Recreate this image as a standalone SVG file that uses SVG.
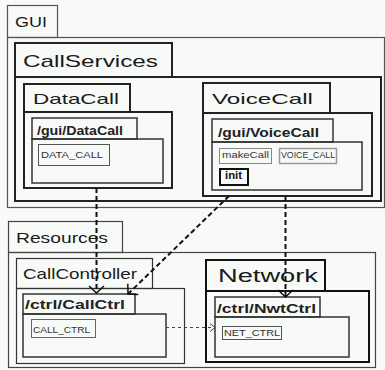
<svg xmlns="http://www.w3.org/2000/svg" width="385" height="370" viewBox="0 0 385 370">
<defs>
<style>
.bg{fill:#f7faf7}
.p1{fill:none;stroke:#555;stroke-width:1.2}
.p2{fill:none;stroke:#222;stroke-width:2}
.p3{fill:none;stroke:#333;stroke-width:1.5}
.p4{fill:none;stroke:#333;stroke-width:1.2}
.box{fill:none;stroke:#666;stroke-width:1}
text{font-family:"Liberation Sans",Arial,sans-serif;fill:#1a1a1a}
.h1{font-size:17px}
.h2{font-size:15px}
.h3{font-size:12px;font-weight:bold;fill:#222}
.sm{font-size:9px;fill:#333}
.dash{fill:none;stroke:#111;stroke-width:2;stroke-dasharray:5 3}
.thin{fill:none;stroke:#444;stroke-width:1;stroke-dasharray:3 3}
</style>
<marker id="open" markerUnits="userSpaceOnUse" viewBox="-10 -10 12 20" refX="0" refY="0" markerWidth="12" markerHeight="20" orient="auto">
<path d="M-7,-7.5 L0,0 L-7,7.5" fill="none" stroke="#111" stroke-width="1.5"/>
</marker>
<marker id="openS" markerUnits="userSpaceOnUse" viewBox="-7 -6 8 12" refX="0" refY="0" markerWidth="8" markerHeight="12" orient="auto">
<path d="M-5,-4 L0,0 L-5,4" fill="none" stroke="#444" stroke-width="1"/>
</marker>
</defs>
<rect class="bg" x="0" y="0" width="385" height="370"/>

<g id="GUI">
<rect class="p1" x="7.5" y="37.5" width="377" height="170"/>
<rect class="p1" x="7.5" y="5.5" width="50" height="32"/>
<text class="h2" x="15" y="27" textLength="32" lengthAdjust="spacingAndGlyphs">GUI</text>
</g>

<g id="CallServices">
<rect class="p2" x="15" y="77" width="366" height="124"/>
<rect class="p2" x="15" y="43" width="157" height="34"/>
<text class="h1" x="23" y="67" textLength="135" lengthAdjust="spacingAndGlyphs">CallServices</text>
</g>

<g id="DataCall">
<rect class="p2" x="24" y="112" width="148" height="76"/>
<rect class="p2" x="24" y="84" width="106" height="28"/>
<text class="h2" x="33" y="104" textLength="86" lengthAdjust="spacingAndGlyphs">DataCall</text>
</g>

<g id="gui-DataCall">
<rect class="p3" x="32" y="139" width="131" height="44"/>
<rect class="p3" x="32" y="118" width="105" height="21"/>
<text class="h3" x="37" y="135" textLength="86" lengthAdjust="spacingAndGlyphs">/gui/DataCall</text>
<rect class="box" x="38.5" y="144.5" width="71" height="21" style="stroke:#555"/>
<text class="sm" x="41" y="158" textLength="62" lengthAdjust="spacingAndGlyphs">DATA_CALL</text>
</g>

<g id="VoiceCall">
<rect class="p2" x="203" y="113" width="169" height="83"/>
<rect class="p2" x="203" y="83" width="127" height="30"/>
<text class="h2" x="212" y="104" textLength="101" lengthAdjust="spacingAndGlyphs">VoiceCall</text>
</g>

<g id="gui-VoiceCall">
<rect class="p3" x="212" y="142" width="150" height="48"/>
<rect class="p3" x="212" y="119" width="121" height="23"/>
<text class="h3" x="218" y="137" textLength="101" lengthAdjust="spacingAndGlyphs">/gui/VoiceCall</text>
<rect class="box" x="219.5" y="148.5" width="52" height="15" style="stroke:#888"/>
<text class="sm" x="222" y="158" textLength="47" lengthAdjust="spacingAndGlyphs">makeCall</text>
<rect class="box" x="279.5" y="148.5" width="57" height="15" style="stroke:#999;stroke-width:1.5"/>
<text class="sm" x="281" y="158" textLength="54" lengthAdjust="spacingAndGlyphs">VOICE_CALL</text>
<rect class="box" x="220" y="169" width="28" height="16" style="stroke:#111;stroke-width:2"/>
<text class="sm" x="225" y="179" textLength="17" lengthAdjust="spacingAndGlyphs" style="font-size:10px;font-weight:bold;fill:#111">init</text>
</g>

<g id="Resources">
<rect class="p4" x="8.5" y="252.5" width="367" height="115" style="stroke:#444"/>
<rect class="p4" x="8.5" y="221.5" width="114" height="31" style="stroke:#444"/>
<text class="h2" x="16" y="243" textLength="92" lengthAdjust="spacingAndGlyphs">Resources</text>
</g>

<g id="CallController">
<rect class="p4" x="16.5" y="288.5" width="168" height="75"/>
<rect class="p4" x="16.5" y="258.5" width="136" height="30"/>
<text class="h2" x="23" y="279" textLength="114" lengthAdjust="spacingAndGlyphs">CallController</text>
</g>

<g id="ctrl-CallCtrl">
<rect class="p3" x="23" y="314" width="143" height="43"/>
<rect class="p3" x="23" y="294" width="112" height="20"/>
<text class="h3" x="25" y="309" textLength="100" lengthAdjust="spacingAndGlyphs">/ctrl/CallCtrl</text>
<rect class="box" x="31.5" y="319.5" width="64" height="18"/>
<text class="sm" x="33" y="333" textLength="57" lengthAdjust="spacingAndGlyphs">CALL_CTRL</text>
</g>

<g id="Network">
<rect class="p2" x="206" y="291" width="163" height="71" style="stroke:#111"/>
<rect class="p2" x="206" y="260" width="119" height="31" style="stroke:#111"/>
<text x="218" y="282" textLength="100" lengthAdjust="spacingAndGlyphs" style="font-size:18px">Network</text>
</g>

<g id="ctrl-NwtCtrl">
<rect class="p3" x="215" y="317" width="134" height="40"/>
<rect class="p3" x="215" y="297" width="105" height="20"/>
<text class="h3" x="217" y="313" textLength="99" lengthAdjust="spacingAndGlyphs">/ctrl/NwtCtrl</text>
<rect class="box" x="222.5" y="326.5" width="59" height="13" style="stroke:#555"/>
<text class="sm" x="224" y="336" textLength="56" lengthAdjust="spacingAndGlyphs">NET_CTRL</text>
</g>

<g id="connectors">
<path class="dash" d="M96.5,188 L96.5,293" marker-end="url(#open)"/>
<path class="dash" d="M229,196 L128,294" marker-end="url(#open)"/>
<path class="dash" d="M285.5,196 L285.5,297" marker-end="url(#open)"/>
<path class="thin" d="M166,327.5 L215,327.5" marker-end="url(#openS)"/>
</g>
</svg>
